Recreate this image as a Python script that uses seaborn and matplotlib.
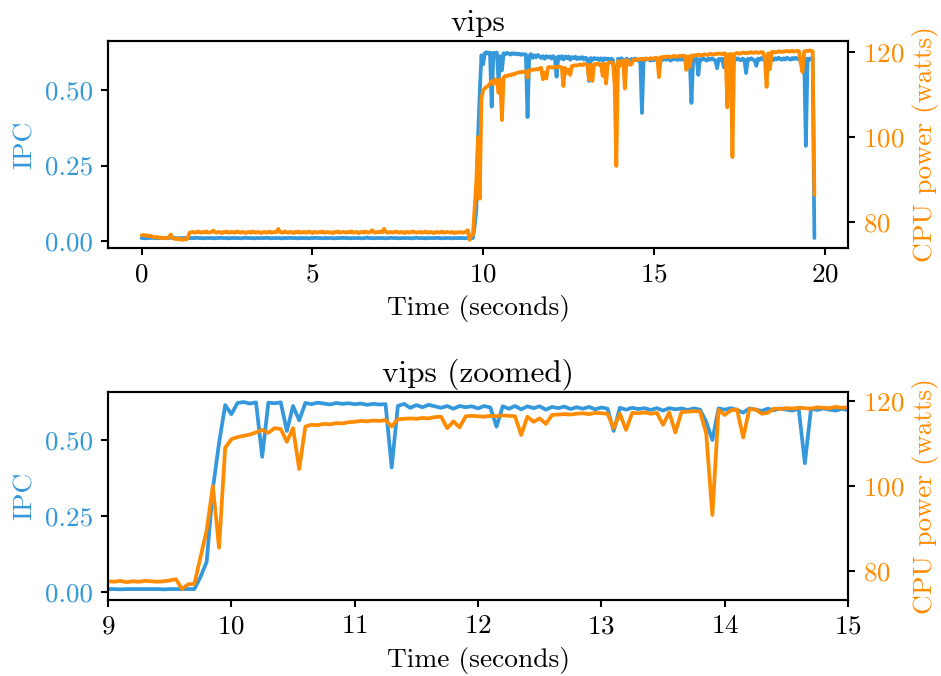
import numpy as np
import pandas as pd
import matplotlib
matplotlib.use("Agg")
import matplotlib.pyplot as plt
import seaborn as sns

# Sampling period of the perf/RAPL readings (seconds)
SAMPLE_PERIOD = 0.05

# Instructions per cycle, idle phase (0.00 s .. 9.65 s)
ipc_idle = [
    0.010, 0.010, 0.009, 0.010, 0.010, 0.010, 0.011, 0.010, 0.010, 0.009,
    0.010, 0.010, 0.010, 0.010, 0.009, 0.010, 0.010, 0.011, 0.010, 0.010,
    0.010, 0.009, 0.010, 0.010, 0.010, 0.010, 0.010, 0.009, 0.010, 0.010,
    0.010, 0.010, 0.011, 0.010, 0.010, 0.010, 0.009, 0.010, 0.010, 0.010,
    0.010, 0.010, 0.010, 0.009, 0.010, 0.010, 0.011, 0.010, 0.010, 0.010,
    0.010, 0.009, 0.010, 0.010, 0.010, 0.010, 0.010, 0.010, 0.009, 0.010,
    0.010, 0.011, 0.010, 0.010, 0.010, 0.010, 0.009, 0.010, 0.010, 0.010,
    0.010, 0.010, 0.010, 0.011, 0.010, 0.010, 0.009, 0.010, 0.010, 0.010,
    0.010, 0.010, 0.009, 0.010, 0.010, 0.010, 0.010, 0.011, 0.010, 0.010,
    0.010, 0.009, 0.010, 0.010, 0.010, 0.010, 0.010, 0.010, 0.009, 0.010,
    0.010, 0.010, 0.011, 0.010, 0.010, 0.010, 0.009, 0.010, 0.010, 0.010,
    0.010, 0.010, 0.010, 0.009, 0.010, 0.010, 0.010, 0.010, 0.011, 0.010,
    0.010, 0.010, 0.009, 0.010, 0.010, 0.010, 0.010, 0.010, 0.010, 0.009,
    0.010, 0.010, 0.012, 0.010, 0.010, 0.010, 0.009, 0.010, 0.010, 0.010,
    0.010, 0.010, 0.010, 0.009, 0.010, 0.010, 0.011, 0.010, 0.010, 0.010,
    0.010, 0.009, 0.010, 0.010, 0.010, 0.010, 0.010, 0.010, 0.009, 0.010,
    0.010, 0.011, 0.010, 0.010, 0.010, 0.010, 0.009, 0.010, 0.010, 0.010,
    0.010, 0.010, 0.010, 0.011, 0.010, 0.010, 0.009, 0.010, 0.010, 0.010,
    0.010, 0.010, 0.009, 0.010, 0.010, 0.010, 0.010, 0.010, 0.010, 0.009,
    0.010, 0.010, 0.010, 0.010,
]

# Instructions per cycle, busy phase (9.70 s .. 19.70 s)
ipc_busy = [
    0.010, 0.050, 0.100, 0.340, 0.490, 0.615, 0.585, 0.622, 0.625, 0.620,
    0.624, 0.445, 0.623, 0.621, 0.624, 0.530, 0.612, 0.565, 0.622, 0.618,
    0.623, 0.620, 0.617, 0.622, 0.619, 0.621, 0.618, 0.620, 0.616, 0.619,
    0.617, 0.618, 0.410, 0.612, 0.619, 0.606, 0.615, 0.608, 0.616, 0.611,
    0.606, 0.612, 0.603, 0.612, 0.608, 0.611, 0.604, 0.612, 0.607, 0.544,
    0.611, 0.603, 0.612, 0.601, 0.611, 0.605, 0.611, 0.600, 0.609, 0.605,
    0.610, 0.602, 0.608, 0.603, 0.609, 0.601, 0.607, 0.603, 0.530, 0.606,
    0.600, 0.606, 0.602, 0.605, 0.599, 0.605, 0.597, 0.605, 0.601, 0.604,
    0.599, 0.604, 0.600, 0.560, 0.500, 0.604, 0.600, 0.605, 0.599, 0.590,
    0.604, 0.600, 0.596, 0.603, 0.598, 0.604, 0.600, 0.597, 0.603, 0.424,
    0.603, 0.599, 0.604, 0.600, 0.597, 0.603, 0.598, 0.604, 0.600, 0.590,
    0.603, 0.599, 0.604, 0.600, 0.605, 0.600, 0.597, 0.604, 0.601, 0.605,
    0.599, 0.603, 0.600, 0.605, 0.598, 0.602, 0.599, 0.600, 0.457, 0.603,
    0.599, 0.604, 0.550, 0.602, 0.600, 0.605, 0.600, 0.597, 0.604, 0.600,
    0.605, 0.601, 0.598, 0.572, 0.603, 0.600, 0.604, 0.575, 0.602, 0.599,
    0.604, 0.600, 0.597, 0.603, 0.600, 0.605, 0.601, 0.598, 0.604, 0.600,
    0.556, 0.603, 0.600, 0.605, 0.600, 0.599, 0.580, 0.604, 0.600, 0.606,
    0.601, 0.598, 0.604, 0.600, 0.606, 0.602, 0.599, 0.605, 0.601, 0.607,
    0.602, 0.600, 0.605, 0.601, 0.607, 0.603, 0.600, 0.606, 0.602, 0.607,
    0.603, 0.600, 0.605, 0.602, 0.607, 0.315, 0.604, 0.600, 0.605, 0.602,
    0.010,
]

# Package power in watts, idle phase (0.00 s .. 9.65 s)
power_idle = [
    76.9, 77.0, 76.8, 76.9, 76.7, 76.8, 76.6, 76.5, 76.4, 76.5, 76.3, 76.4, 76.2, 76.3,
    76.2, 76.3, 76.4, 77.1, 76.3, 76.1, 76.0, 76.2, 75.9, 76.0, 75.8, 76.1, 75.9, 76.2, 77.5,
    77.6, 77.7, 77.5, 77.6, 77.8, 77.6, 77.5, 77.7, 77.6, 77.8, 77.5, 77.6, 77.7, 78.0, 77.6,
    77.5, 77.7, 77.6, 77.4, 77.7, 77.6, 77.8, 77.5, 77.6, 77.7, 77.5, 77.6, 77.8, 77.6, 77.5,
    77.7, 77.6, 77.4, 77.6, 77.7, 77.5, 77.8, 77.6, 77.5, 77.7, 77.6, 77.4, 77.6, 77.7, 77.5,
    77.6, 77.8, 77.5, 77.6, 77.7, 77.6, 78.4, 77.7, 77.5, 77.6, 77.8, 77.6, 77.5, 77.7, 77.6,
    77.4, 77.7, 77.6, 77.8, 77.5, 77.6, 77.7, 77.5, 77.6, 77.8, 77.6, 77.4, 77.7, 77.6, 77.5,
    77.7, 77.6, 77.8, 77.5, 77.6, 77.7, 77.5, 77.6, 77.4, 77.7, 77.6, 77.8, 77.5, 77.6, 77.7,
    77.6, 77.5, 77.7, 77.6, 77.8, 77.5, 77.6, 77.7, 77.4, 77.6, 77.7, 77.5, 77.8, 77.6, 77.5,
    77.7, 78.1, 77.6, 77.5, 77.7, 77.6, 77.8, 77.6, 78.4, 77.7, 77.5, 77.6, 77.7, 77.5, 77.6,
    77.8, 77.6, 77.5, 77.7, 77.6, 77.4, 77.7, 77.6, 77.5, 77.7, 77.8, 77.6, 77.5, 77.6, 77.7,
    77.5, 77.6, 77.8, 77.6, 77.5, 77.7, 77.6, 77.4, 77.6, 77.7, 77.5, 77.6, 77.8, 77.5, 77.6,
    77.7, 77.6, 77.5, 77.7, 77.4, 77.6, 77.5, 77.7, 77.6, 77.5, 77.6, 77.8, 78.1, 75.8, 76.9,
]

# Package power in watts, busy phase (9.70 s .. 19.70 s)
power_busy = [
    77.0, 83.3, 89.6, 100.0, 85.5, 109.0, 111.0, 111.5, 111.8, 112.1,
    112.6, 113.2, 112.5, 113.6, 113.4, 110.4, 113.6, 104.0, 114.0, 114.4,
    114.3, 114.6, 114.5, 114.8, 114.7, 115.0, 115.1, 115.3, 115.2, 115.4,
    115.3, 115.5, 114.0, 115.7, 115.8, 115.9, 115.8, 116.0, 115.9, 116.2,
    116.3, 113.6, 115.2, 113.8, 116.4, 116.5, 116.4, 116.3, 116.5, 116.4,
    116.6, 116.5, 116.4, 112.0, 116.3, 115.1, 115.9, 114.6, 116.7, 116.8,
    116.9, 116.8, 117.0, 117.1, 116.9, 117.2, 117.1, 117.0, 113.6, 117.0,
    113.2, 117.2, 117.1, 117.3, 117.0, 117.2, 114.4, 117.3, 112.6, 117.4,
    117.5, 117.6, 117.5, 112.4, 93.2, 117.9, 116.7, 117.8, 118.0, 111.4,
    118.1, 118.0, 117.0, 117.2, 118.2, 118.1, 118.3, 118.2, 118.4, 118.3,
    118.2, 118.5, 118.4, 118.3, 118.6, 118.4, 118.5, 118.7, 118.6, 114.1,
    118.8, 118.7, 118.9, 118.8, 119.0, 118.9, 118.8, 119.0, 119.1, 118.9,
    119.0, 119.1, 119.0, 119.2, 119.1, 115.8, 119.0, 116.5, 119.2, 119.1,
    119.3, 119.2, 119.4, 119.3, 119.2, 119.4, 119.5, 119.3, 119.4, 119.6,
    119.5, 119.4, 119.6, 119.5, 119.7, 119.6, 119.5, 119.7, 119.6, 107.0,
    119.4, 119.6, 95.3, 119.5, 119.7, 119.8, 119.6, 119.7, 119.9, 119.8,
    119.7, 119.9, 119.8, 120.0, 119.8, 119.9, 120.0, 119.8, 119.9, 120.0,
    119.9, 118.5, 111.8, 119.7, 116.0, 120.0, 120.1, 119.9, 120.0, 120.2,
    120.1, 120.0, 120.2, 120.1, 120.3, 120.1, 120.2, 120.3, 120.1, 120.2,
    120.3, 120.2, 117.5, 115.3, 120.1, 120.3, 120.2, 120.4, 120.3, 120.2,
    86.4,
]

BENCHMARK = "vips"
IPC_COLOR = "#3498db"
POWER_COLOR = "#ff8c00"
ZOOM_WINDOW = (9, 15)

ipc = np.array(ipc_idle + ipc_busy)
power = np.array(power_idle + power_busy)
ipc_df = pd.DataFrame({"time": np.arange(len(ipc)) * SAMPLE_PERIOD, "ipc": ipc})
power_df = pd.DataFrame({"time": np.arange(len(power)) * SAMPLE_PERIOD, "power": power})

sns.set_theme(style="ticks")
plt.rcParams.update({
    "font.family": ["cmr10", "DejaVu Serif"],
    "mathtext.fontset": "cm",
    "axes.formatter.use_mathtext": True,
    "font.size": 13,
    "axes.titlesize": 15,
    "axes.labelsize": 13.2,
    "xtick.labelsize": 13,
    "ytick.labelsize": 13,
    "axes.edgecolor": "black",
    "axes.linewidth": 1.0,
    "xtick.color": "black",
    "ytick.color": "black",
    "xtick.major.width": 1.0,
    "ytick.major.width": 1.0,
    "xtick.major.size": 3.5,
    "ytick.major.size": 3.5,
    "text.color": "black",
    "axes.labelcolor": "black",
})

fig = plt.figure(figsize=(941 / 150, 676 / 150), dpi=150)
ax_full = fig.add_axes([0.1148, 0.6331, 0.7864, 0.3062])
ax_zoom = fig.add_axes([0.1148, 0.1124, 0.7864, 0.3077])


def draw_panel(ax, title, ipc_lim, power_lim, xlim=None):
    sns.lineplot(data=ipc_df, x="time", y="ipc", ax=ax, color=IPC_COLOR,
                 lw=1.8, estimator=None)
    ax.set_ylabel("IPC", color=IPC_COLOR)
    ax.set_xlabel("Time (seconds)")
    ax.set_title(title, pad=5)
    ax.set_ylim(*ipc_lim)
    ax.set_yticks([0.0, 0.25, 0.5])
    ax.set_yticklabels(["0.00", "0.25", "0.50"])
    ax.tick_params(axis="y", labelcolor=IPC_COLOR)

    twin = ax.twinx()
    sns.lineplot(data=power_df, x="time", y="power", ax=twin,
                 color=POWER_COLOR, lw=1.8, estimator=None)
    twin.set_ylabel("CPU power (watts)", color=POWER_COLOR)
    twin.set_ylim(*power_lim)
    twin.set_yticks([80, 100, 120])
    twin.tick_params(axis="y", labelcolor=POWER_COLOR)
    if xlim is not None:
        ax.set_xlim(*xlim)
    for spine in list(ax.spines.values()) + list(twin.spines.values()):
        spine.set_visible(True)
        spine.set_color("black")
        spine.set_linewidth(1.0)
    return twin


draw_panel(ax_full, BENCHMARK, (-0.023, 0.662), (73.9, 122.6))
ax_full.set_xticks([0, 5, 10, 15, 20])
draw_panel(ax_zoom, f"{BENCHMARK} (zoomed)", (-0.026, 0.658), (73.2, 122.1),
           xlim=ZOOM_WINDOW)

fig.savefig("out.png", dpi=150)
